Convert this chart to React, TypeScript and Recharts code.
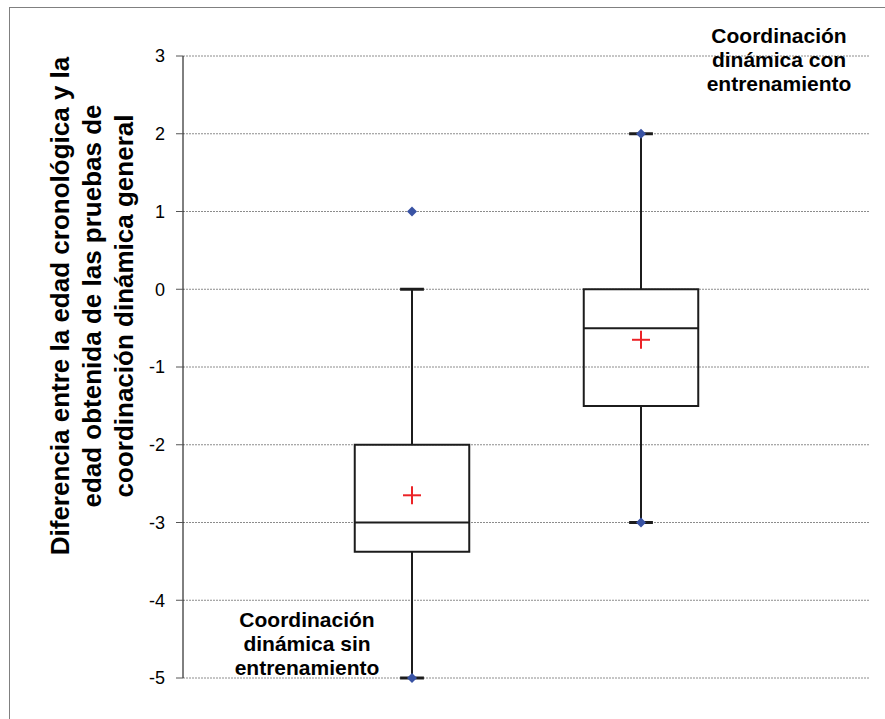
import React from "react";
import {
  ScatterChart,
  Scatter,
  XAxis,
  YAxis,
  CartesianGrid,
  ReferenceLine,
  ReferenceArea,
  Customized,
} from "recharts";

// ---- data ----
const categories = ["Coordinación dinámica sin entrenamiento", "Coordinación dinámica con entrenamiento"];
const positions = [1, 2];
const q1Values = [-3.375, -1.5];
const medianValues = [-3, -0.5];
const q3Values = [-2, 0];
const whiskerLow = [-5, -3];
const whiskerHigh = [0, 2];
const minValues = [-5, -3];
const maxValues = [1, 2];
const meanValues = [-2.65, -0.65];
const yTicks = [-5, -4, -3, -2, -1, 0, 1, 2, 3];

const extremePoints = positions.flatMap((p, i) => [
  { x: p, y: minValues[i] },
  { x: p, y: maxValues[i] },
]);
const meanPoints = positions.map((p, i) => ({ x: p, y: meanValues[i] }));

const FONT = "'Liberation Sans', Arial, Helvetica, sans-serif";
const BOX_HALF = 0.25;
const CAP_HALF = 0.052;
const BOX_STROKE = "#1c1c1c";

const Diamond = (props: any) => {
  const { cx, cy } = props;
  const r = 5;
  return (
    <polygon
      points={`${cx},${cy - r} ${cx + r},${cy} ${cx},${cy + r} ${cx - r},${cy}`}
      fill="#3953a4"
    />
  );
};

const MeanCross = (props: any) => {
  const { cx, cy } = props;
  const r = 9;
  return (
    <g stroke="#ec2327" strokeWidth={2}>
      <line x1={cx - r} y1={cy} x2={cx + r} y2={cy} />
      <line x1={cx} y1={cy - r} x2={cx} y2={cy + r} />
    </g>
  );
};

const Annotations = () => (
  <g fontFamily={FONT} fontWeight="bold" fontSize={21} fill="#000" textAnchor="middle">
    <text x={779} y={43}>Coordinación</text>
    <text x={779} y={67}>dinámica con</text>
    <text x={779} y={91}>entrenamiento</text>
    <text x={307} y={627}>Coordinación</text>
    <text x={307} y={651}>dinámica sin</text>
    <text x={307} y={675}>entrenamiento</text>
    <g fontSize={26}>
      <text x={69} y={306} transform="rotate(-90, 69, 306)">Diferencia entre la edad cronológica y la</text>
      <text x={101} y={306} transform="rotate(-90, 101, 306)">edad obtenida de las pruebas de</text>
      <text x={133} y={306} transform="rotate(-90, 133, 306)">coordinación dinámica general</text>
    </g>
  </g>
);

export default function App() {
  return (
    <div style={{ position: "absolute", left: 0, top: 0, width: 885, height: 719, background: "#fff" }}>
      <div
        style={{
          position: "absolute",
          left: 9,
          top: 7,
          width: 900,
          height: 750,
          borderLeft: "1px solid #808080",
          borderTop: "1px solid #808080",
          boxSizing: "border-box",
        }}
      />
      <div style={{ position: "absolute", left: 0, top: 0 }}>
        <ScatterChart width={885} height={719} margin={{ top: 56, right: 15, bottom: 41, left: 0 }}>
          <CartesianGrid vertical={false} stroke="#8c8c8c" strokeDasharray="2 1" />
          <XAxis type="number" dataKey="x" domain={[0, 3]} hide />
          <YAxis
            type="number"
            dataKey="y"
            domain={[-5, 3]}
            ticks={yTicks}
            width={183}
            axisLine={{ stroke: "#000", strokeWidth: 1 }}
            tickLine={{ stroke: "#555" }}
            tickSize={7}
            tickMargin={11}
            tick={{ fill: "#000", fontSize: 18, fontFamily: FONT }}
            interval={0}
          />
          {positions.map((p, i) => (
            <ReferenceLine
              key={`wh-${i}`}
              segment={[{ x: p, y: q3Values[i] }, { x: p, y: whiskerHigh[i] }]}
              stroke={BOX_STROKE}
              strokeWidth={2}
            />
          ))}
          {positions.map((p, i) => (
            <ReferenceLine
              key={`wl-${i}`}
              segment={[{ x: p, y: q1Values[i] }, { x: p, y: whiskerLow[i] }]}
              stroke={BOX_STROKE}
              strokeWidth={2}
            />
          ))}
          {positions.map((p, i) => (
            <ReferenceLine
              key={`ch-${i}`}
              segment={[{ x: p - CAP_HALF, y: whiskerHigh[i] }, { x: p + CAP_HALF, y: whiskerHigh[i] }]}
              stroke={BOX_STROKE}
              strokeWidth={3}
            />
          ))}
          {positions.map((p, i) => (
            <ReferenceLine
              key={`cl-${i}`}
              segment={[{ x: p - CAP_HALF, y: whiskerLow[i] }, { x: p + CAP_HALF, y: whiskerLow[i] }]}
              stroke={BOX_STROKE}
              strokeWidth={3}
            />
          ))}
          {positions.map((p, i) => (
            <ReferenceArea
              key={`box-${i}`}
              x1={p - BOX_HALF}
              x2={p + BOX_HALF}
              y1={q1Values[i]}
              y2={q3Values[i]}
              fill="none"
              fillOpacity={0}
              stroke={BOX_STROKE}
              strokeWidth={2}
            />
          ))}
          {positions.map((p, i) => (
            <ReferenceLine
              key={`med-${i}`}
              segment={[{ x: p - BOX_HALF, y: medianValues[i] }, { x: p + BOX_HALF, y: medianValues[i] }]}
              stroke={BOX_STROKE}
              strokeWidth={2}
            />
          ))}
          <Scatter name="extremos" data={extremePoints} shape={<Diamond />} isAnimationActive={false} />
          <Scatter name="media" data={meanPoints} shape={<MeanCross />} isAnimationActive={false} />
          <Customized component={Annotations} />
        </ScatterChart>
      </div>
    </div>
  );
}
